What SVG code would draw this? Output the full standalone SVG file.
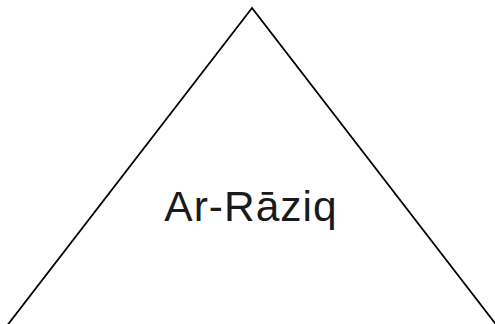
<svg xmlns="http://www.w3.org/2000/svg" width="495" height="324" viewBox="0 0 495 324">
<style>
.shape{fill:#fff;stroke:#000;stroke-width:1.8}
.label{font-family:"Liberation Sans",Arial,sans-serif;font-size:42.5px;letter-spacing:1px;fill:#1a1a1a;text-anchor:middle}
</style>
<rect width="495" height="324" fill="#fff"/>
<g id="triangle">
<polygon class="shape" points="252,8 -4,340 508,340"/>
<text class="label" x="251" y="220.5">Ar-Rāziq</text>
</g>
</svg>
